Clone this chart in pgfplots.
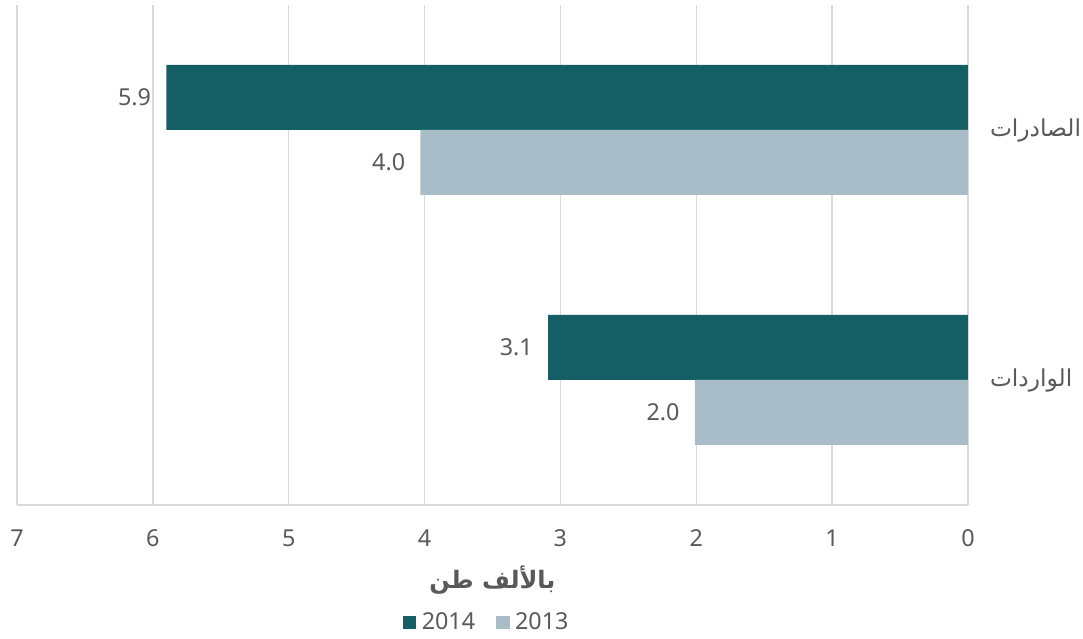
\documentclass[border=0pt]{standalone}
\usepackage{pgfplots}
\pgfplotsset{compat=1.18}
\usepackage{fontspec}
\setmainfont{Noto Sans}
\newfontfamily\arabicfont[Script=Arabic]{DejaVu Sans}
\TeXXeTstate=1
\definecolor{c2014}{HTML}{145F66}
\definecolor{c2013}{HTML}{A9BDC8}
\definecolor{gridc}{HTML}{D9D9D9}
\definecolor{txt}{HTML}{595959}
\begin{document}
\begin{tikzpicture}
\begin{axis}[
    name=ax, at={(0,0)}, anchor=south west,
    xbar, scale only axis,
    width=713.25pt, height=375pt,
    x dir=reverse,
    xmin=0, xmax=7, xtick={0,...,7},
    ymin=-0.5, ymax=1.5, ytick={0,1},
    yticklabels={{\arabicfont\beginR الواردات\endR},{\arabicfont\beginR الصادرات\endR}},
    axis x line*=bottom, axis y line*=right,
    x axis line style={gridc, line width=1pt},
    y axis line style={draw=none},
    major tick length=0pt,
    xmajorgrids, grid style={gridc, line width=1pt},
    /pgf/number format/assume math mode=true,
    every tick label/.append style={font=\fontsize{17.5}{20}\selectfont, text=txt},
    xticklabel style={yshift=-15pt},
    yticklabel style={xshift=13pt},
    xlabel={\arabicfont\bfseries\beginR بالألف طن\endR},
    xlabel style={at={(axis description cs:0.5,0)}, anchor=center, yshift=-56pt,
        font=\fontsize{18}{20}\selectfont, text=txt},
    bar width=0.26,
    nodes near coords={\pgfmathprintnumber[fixed,fixed zerofill,precision=1]{\pgfplotspointmeta}},
    every node near coord/.append style={anchor=east, xshift=-8pt,
        font=\fontsize{17.5}{20}\selectfont, text=txt},
    legend columns=2,
    legend style={at={(axis description cs:0.5,0)}, anchor=center, yshift=-88pt, xshift=-4pt,
        draw=none, fill=none, font=\fontsize{17.5}{20}\selectfont, text=txt,
        /tikz/every even column/.append style={column sep=14pt},
        /tikz/every odd column/.append style={column sep=2pt}},
    legend image code/.code={\fill[#1] (0pt,-5pt) rectangle (10pt,5pt);},
    clip=false,
]
\addplot[fill=c2014, draw=none, bar shift=0.13] coordinates {
    (5.9,1)
    (3.09,0)
};
\addplot[fill=c2013, draw=none, bar shift=-0.13] coordinates {
    (4.03,1)
    (2.01,0)
};
\legend{2014, 2013}
\end{axis}
\pgfresetboundingbox
\path[use as bounding box] (-12.75pt,-100.5pt) rectangle (799.5pt,378.75pt);
\end{tikzpicture}
\end{document}
